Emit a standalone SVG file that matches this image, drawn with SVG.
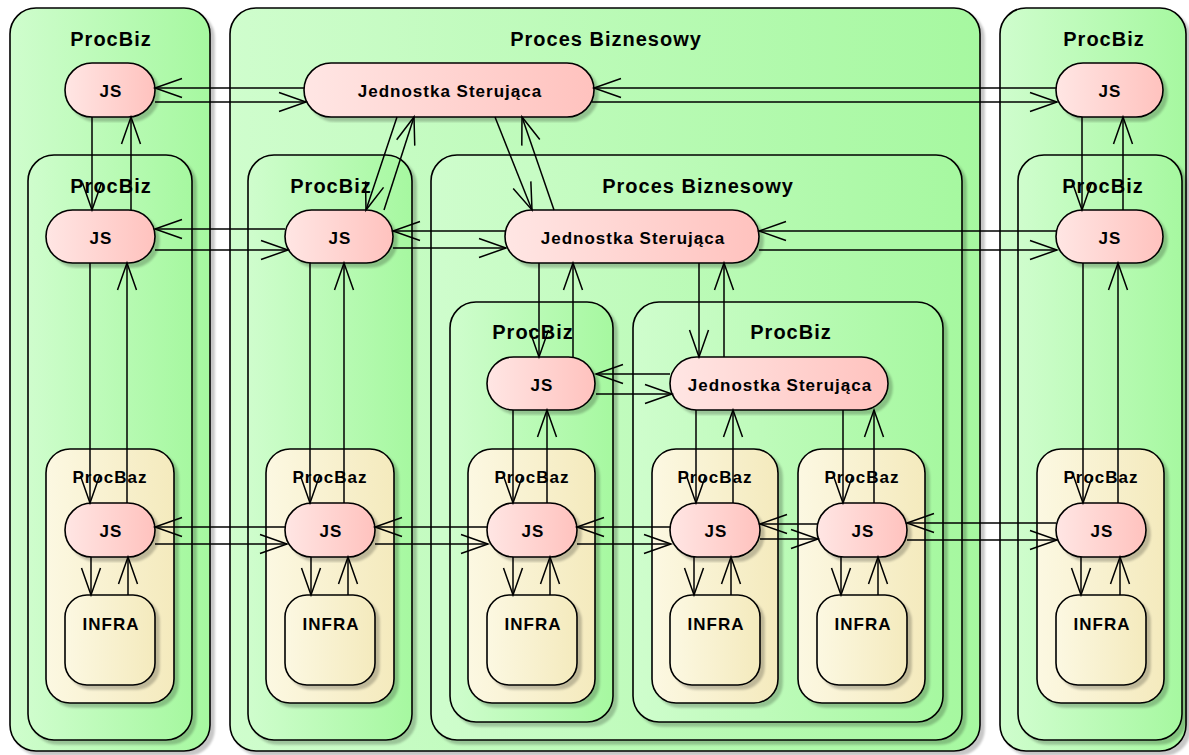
<svg xmlns="http://www.w3.org/2000/svg" width="1189" height="755" viewBox="0 0 1189 755">
<defs>
<linearGradient id="gG" x1="0" y1="0" x2="1" y2="0"><stop offset="0" stop-color="#cffdcd"/><stop offset="1" stop-color="#a6f8a0"/></linearGradient>
<linearGradient id="gP" x1="0" y1="0" x2="1" y2="0"><stop offset="0" stop-color="#ffe6e4"/><stop offset="1" stop-color="#ffc2be"/></linearGradient>
<linearGradient id="gY" x1="0" y1="0" x2="1" y2="0"><stop offset="0" stop-color="#fcf8e2"/><stop offset="1" stop-color="#f4eabd"/></linearGradient>
<filter id="sh" x="-5%" y="-5%" width="115%" height="115%"><feDropShadow dx="4" dy="4" stdDeviation="1.2" flood-color="#000" flood-opacity="0.22"/></filter>
<marker id="a" markerUnits="userSpaceOnUse" markerWidth="30" markerHeight="22" viewBox="-28 -11 30 22" refX="0" refY="0" orient="auto" overflow="visible"><path d="M-27,-9.5 L0,0 L-27,9.5" fill="none" stroke="#000" stroke-width="1.5"/></marker>
<style>
.c{fill:url(#gG);stroke:#000;stroke-width:1.6;filter:url(#sh)}
.b{fill:url(#gY);stroke:#000;stroke-width:1.6;filter:url(#sh)}
.p{fill:url(#gP);stroke:#000;stroke-width:1.6;filter:url(#sh)}
.i{fill:url(#gY);stroke:#000;stroke-width:1.6;filter:url(#sh)}
text{font-family:"Liberation Sans",Arial,sans-serif;font-weight:bold;fill:#000;text-anchor:middle}
.t1{font-size:20px;letter-spacing:1px}
.t2{font-size:17px;letter-spacing:1px}
#conn line{stroke:#000;stroke-width:1.5;marker-end:url(#a)}
</style>
</defs>
<rect width="1189" height="755" fill="#fff"/>

<!-- outer containers -->
<g id="procbiz-left"><rect class="c" x="10" y="8" width="200" height="743" rx="26"/><text class="t1" x="111" y="46">ProcBiz</text></g>
<g id="proces-biznesowy"><rect class="c" x="230" y="8" width="750" height="743" rx="26"/><text class="t1" x="606" y="46">Proces Biznesowy</text></g>
<g id="procbiz-right"><rect class="c" x="1000" y="8" width="186" height="743" rx="26"/><text class="t1" x="1104" y="46">ProcBiz</text></g>

<!-- second-level containers -->
<g id="procbiz-left-inner"><rect class="c" x="28" y="155" width="164" height="585" rx="26"/><text class="t1" x="111" y="193">ProcBiz</text></g>
<g id="procbiz-cl"><rect class="c" x="248" y="155" width="164" height="585" rx="26"/><text class="t1" x="331" y="193">ProcBiz</text></g>
<g id="proces-biznesowy-inner"><rect class="c" x="431" y="155" width="531" height="585" rx="26"/><text class="t1" x="698" y="193">Proces Biznesowy</text></g>
<g id="procbiz-right-inner"><rect class="c" x="1018" y="155" width="164" height="585" rx="26"/><text class="t1" x="1103" y="193">ProcBiz</text></g>

<!-- third-level containers -->
<g id="procbiz-a"><rect class="c" x="450" y="302" width="163" height="420" rx="26"/><text class="t1" x="533" y="339">ProcBiz</text></g>
<g id="procbiz-b"><rect class="c" x="633" y="302" width="310" height="420" rx="26"/><text class="t1" x="791" y="339">ProcBiz</text></g>

<!-- ProcBaz containers -->
<g id="procbaz-1"><rect class="b" x="46" y="449" width="128" height="254" rx="24"/><text class="t2" x="110" y="483">ProcBaz</text></g>
<g id="procbaz-2"><rect class="b" x="266" y="449" width="128" height="254" rx="24"/><text class="t2" x="330" y="483">ProcBaz</text></g>
<g id="procbaz-3"><rect class="b" x="468" y="449" width="127" height="254" rx="24"/><text class="t2" x="532" y="483">ProcBaz</text></g>
<g id="procbaz-4"><rect class="b" x="652" y="449" width="126" height="254" rx="24"/><text class="t2" x="715" y="483">ProcBaz</text></g>
<g id="procbaz-5"><rect class="b" x="798" y="449" width="127" height="254" rx="24"/><text class="t2" x="862" y="483">ProcBaz</text></g>
<g id="procbaz-6"><rect class="b" x="1037" y="449" width="127" height="254" rx="24"/><text class="t2" x="1101" y="483">ProcBaz</text></g>

<!-- control units -->
<g id="js-l0"><rect class="p" x="65" y="63" width="90" height="54" rx="27"/><text class="t2" x="111" y="97">JS</text></g>
<g id="jed-top"><rect class="p" x="304" y="63" width="290" height="54" rx="27"/><text class="t2" x="450" y="97">Jednostka Sterująca</text></g>
<g id="js-r0"><rect class="p" x="1056" y="63" width="107" height="54" rx="27"/><text class="t2" x="1110" y="97">JS</text></g>

<g id="js-l1"><rect class="p" x="46" y="210" width="109" height="53" rx="26.5"/><text class="t2" x="101" y="244">JS</text></g>
<g id="js-cl"><rect class="p" x="285" y="210" width="108" height="53" rx="26.5"/><text class="t2" x="340" y="244">JS</text></g>
<g id="jed-2"><rect class="p" x="505" y="210" width="254" height="53" rx="26.5"/><text class="t2" x="633" y="244">Jednostka Sterująca</text></g>
<g id="js-r1"><rect class="p" x="1056" y="210" width="107" height="53" rx="26.5"/><text class="t2" x="1110" y="244">JS</text></g>

<g id="js-a"><rect class="p" x="487" y="357" width="108" height="53" rx="26.5"/><text class="t2" x="542" y="391">JS</text></g>
<g id="jed-3"><rect class="p" x="670" y="357" width="218" height="53" rx="26.5"/><text class="t2" x="780" y="391">Jednostka Sterująca</text></g>

<g id="js-b1"><rect class="p" x="65" y="503" width="90" height="54" rx="27"/><text class="t2" x="111" y="537">JS</text></g>
<g id="js-b2"><rect class="p" x="285" y="503" width="90" height="54" rx="27"/><text class="t2" x="331" y="537">JS</text></g>
<g id="js-b3"><rect class="p" x="487" y="503" width="90" height="54" rx="27"/><text class="t2" x="533" y="537">JS</text></g>
<g id="js-b4"><rect class="p" x="670" y="503" width="90" height="54" rx="27"/><text class="t2" x="716" y="537">JS</text></g>
<g id="js-b5"><rect class="p" x="817" y="503" width="90" height="54" rx="27"/><text class="t2" x="863" y="537">JS</text></g>
<g id="js-b6"><rect class="p" x="1056" y="503" width="90" height="54" rx="27"/><text class="t2" x="1102" y="537">JS</text></g>

<!-- INFRA -->
<g id="infra-1"><rect class="i" x="65" y="595" width="90" height="90" rx="22"/><text class="t2" x="111" y="630">INFRA</text></g>
<g id="infra-2"><rect class="i" x="285" y="595" width="90" height="90" rx="22"/><text class="t2" x="331" y="630">INFRA</text></g>
<g id="infra-3"><rect class="i" x="487" y="595" width="90" height="90" rx="22"/><text class="t2" x="533" y="630">INFRA</text></g>
<g id="infra-4"><rect class="i" x="670" y="595" width="90" height="90" rx="22"/><text class="t2" x="716" y="630">INFRA</text></g>
<g id="infra-5"><rect class="i" x="817" y="595" width="90" height="90" rx="22"/><text class="t2" x="863" y="630">INFRA</text></g>
<g id="infra-6"><rect class="i" x="1056" y="595" width="90" height="90" rx="22"/><text class="t2" x="1102" y="630">INFRA</text></g>

<g id="conn">
<line x1="304" y1="88" x2="155" y2="88"/>
<line x1="155" y1="102" x2="306" y2="102"/>
<line x1="1056" y1="88" x2="594" y2="88"/>
<line x1="592" y1="102" x2="1057" y2="102"/>
<line x1="92" y1="117" x2="92" y2="210"/>
<line x1="131" y1="210" x2="131" y2="117"/>
<line x1="397" y1="117" x2="366" y2="210"/>
<line x1="384" y1="210" x2="414" y2="117"/>
<line x1="495" y1="117" x2="532" y2="210"/>
<line x1="554" y1="210" x2="522" y2="117"/>
<line x1="1082" y1="117" x2="1082" y2="210"/>
<line x1="1123" y1="210" x2="1123" y2="117"/>
<line x1="285" y1="229" x2="155" y2="229"/>
<line x1="155" y1="250" x2="288" y2="250"/>
<line x1="505" y1="231" x2="393" y2="231"/>
<line x1="393" y1="248" x2="506" y2="248"/>
<line x1="1056" y1="231" x2="759" y2="231"/>
<line x1="759" y1="250" x2="1057" y2="250"/>
<line x1="90" y1="263" x2="90" y2="503"/>
<line x1="127" y1="503" x2="127" y2="263"/>
<line x1="310" y1="263" x2="310" y2="503"/>
<line x1="344" y1="503" x2="344" y2="263"/>
<line x1="539" y1="263" x2="539" y2="357"/>
<line x1="573" y1="357" x2="573" y2="263"/>
<line x1="699" y1="263" x2="699" y2="357"/>
<line x1="724" y1="357" x2="724" y2="263"/>
<line x1="1083" y1="263" x2="1083" y2="503"/>
<line x1="1118" y1="503" x2="1118" y2="263"/>
<line x1="670" y1="374" x2="596" y2="374"/>
<line x1="596" y1="394" x2="672" y2="394"/>
<line x1="513" y1="410" x2="513" y2="503"/>
<line x1="547" y1="503" x2="547" y2="410"/>
<line x1="696" y1="410" x2="696" y2="503"/>
<line x1="733" y1="503" x2="733" y2="410"/>
<line x1="843" y1="410" x2="843" y2="503"/>
<line x1="874" y1="503" x2="874" y2="410"/>
<line x1="285" y1="527" x2="155" y2="527"/>
<line x1="155" y1="544" x2="287" y2="544"/>
<line x1="487" y1="527" x2="375" y2="527"/>
<line x1="375" y1="544" x2="488" y2="544"/>
<line x1="670" y1="527" x2="577" y2="527"/>
<line x1="577" y1="544" x2="671" y2="544"/>
<line x1="817" y1="524" x2="760" y2="524"/>
<line x1="760" y1="539" x2="818" y2="539"/>
<line x1="1056" y1="523" x2="907" y2="523"/>
<line x1="907" y1="540" x2="1057" y2="540"/>
<line x1="91" y1="557" x2="91" y2="595"/>
<line x1="128" y1="595" x2="128" y2="557"/>
<line x1="311" y1="557" x2="311" y2="595"/>
<line x1="348" y1="595" x2="348" y2="557"/>
<line x1="513" y1="557" x2="513" y2="595"/>
<line x1="550" y1="595" x2="550" y2="557"/>
<line x1="694" y1="557" x2="694" y2="595"/>
<line x1="731" y1="595" x2="731" y2="557"/>
<line x1="841" y1="557" x2="841" y2="595"/>
<line x1="878" y1="595" x2="878" y2="557"/>
<line x1="1081" y1="557" x2="1081" y2="595"/>
<line x1="1120" y1="595" x2="1120" y2="557"/>
</g>
</svg>
